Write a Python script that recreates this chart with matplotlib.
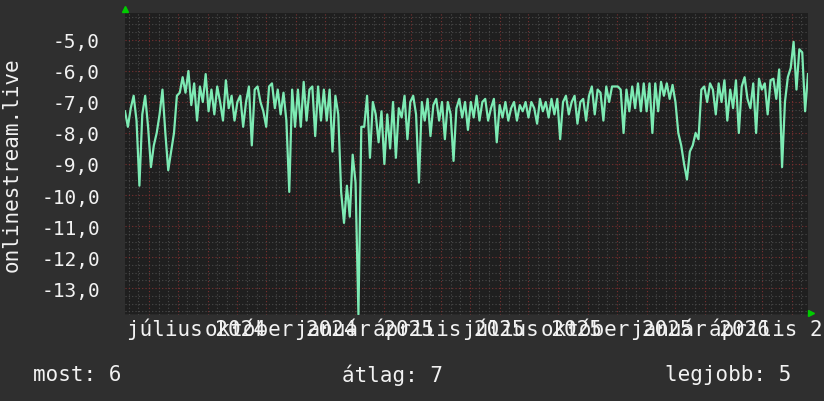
import matplotlib
matplotlib.use("Agg")
import matplotlib.pyplot as plt
import numpy as np

# one value every 3 days, starting 2024-05-07
start_day = np.datetime64("2024-05-07")
step_days = 3
end_day = 711
values = [
    -7.3, -7.8, -7.2, -6.8, -7.6, -9.7, -7.4, -6.8, -7.8, -9.1,
    -8.4, -8.0, -7.4, -6.6, -8.0, -9.2, -8.6, -8.0, -6.8, -6.7,
    -6.2, -6.7, -6.0, -7.1, -6.4, -7.6, -6.5, -7.0, -6.1, -7.3,
    -6.6, -7.4, -6.5, -7.0, -7.6, -6.3, -7.2, -6.8, -7.6, -7.0,
    -6.8, -7.8, -7.0, -6.5, -8.4, -6.6, -6.5, -7.0, -7.3, -7.8,
    -6.5, -6.4, -7.2, -6.6, -7.4, -6.7, -7.6, -9.9, -6.6, -7.8,
    -6.6, -7.8, -6.35, -7.6, -6.6, -6.5, -8.1, -6.5, -7.6, -6.6,
    -7.6, -6.6, -8.6, -6.8, -7.4, -9.9, -10.9, -9.7, -10.7, -8.7,
    -9.6, -13.85, -7.8, -7.8, -6.8, -8.8, -7.0, -7.4, -8.3, -7.3,
    -9.0, -7.4, -8.5, -7.0, -8.8, -7.2, -7.5, -6.8, -8.2, -7.0,
    -6.8, -7.4, -9.6, -7.0, -7.6, -6.9, -8.1, -7.1, -6.9, -7.6,
    -7.0, -8.2, -7.0, -7.4, -8.9, -7.2, -6.9, -7.5, -7.0, -7.9,
    -7.0, -7.5, -6.8, -7.6, -7.0, -6.9, -7.6, -7.2, -6.9, -8.3,
    -7.1, -7.5, -7.0, -7.6, -7.2, -7.0, -7.6, -7.1, -7.3, -7.0,
    -7.5, -7.0, -7.2, -7.7, -6.9, -7.3, -7.0, -7.5, -6.9, -7.4,
    -6.9, -8.2, -7.0, -6.8, -7.4, -7.0, -6.8, -7.7, -7.0, -6.9,
    -7.6, -6.8, -6.5, -7.4, -6.6, -6.7, -7.6, -6.5, -7.0, -6.5,
    -6.5, -6.5, -6.6, -8.0, -6.6, -7.3, -6.5, -7.2, -6.4, -7.3,
    -6.4, -7.3, -6.4, -8.0, -6.4, -7.3, -6.35, -6.8, -6.4, -6.9,
    -6.45, -7.0, -8.0, -8.4, -9.0, -9.5, -8.6, -8.4, -8.0, -8.2,
    -6.6, -6.5, -7.0, -6.4, -6.6, -7.4, -6.4, -7.0, -6.3, -7.6,
    -6.6, -7.2, -6.3, -8.0, -6.5, -6.2, -6.9, -7.2, -6.4, -8.0,
    -6.25, -6.6, -6.4, -7.4, -6.3, -6.25, -6.9, -5.95, -9.1, -7.0,
    -6.2, -5.9, -5.06, -6.6, -5.3, -5.4, -7.3, -6.1,
]
# x label positions in days from start_day (labels overlap, as in the original)
label_days = [74, 162, 249, 337, 424, 512, 599, 687]
tick_labels = ["július 2024", "október 2024", "január 2025", "április 2025",
               "július 2025", "október 2025", "január 2026", "április 2026"]
y_ticks = [-5, -6, -7, -8, -9, -10, -11, -12, -13]
y_title = "onlinestream.live"
summary = ["most: 6", "átlag: 7", "legjobb: 5"]

days = np.arange(len(values)) * step_days

# month starts for red grid, 11th/21st for grey grid
months = np.arange(np.datetime64("2024-05"), np.datetime64("2026-06"))
month_days = [(m.astype("datetime64[D]") - start_day).astype(int) for m in months]
minor_days = []
for md in month_days:
    minor_days += [md + 10, md + 20]

mono = "DejaVu Sans Mono"
fig = plt.figure(figsize=(8.24, 4.02), dpi=100, facecolor="#2f2f2f")
ax = fig.add_axes([125 / 824, 86 / 402, 683 / 824, 302 / 402])
ax.set_facecolor("#1f1f1f")

ax.set_xlim(0, end_day)
ax.set_ylim(-13.87, -4.13)

# grid
for d in minor_days:
    ax.axvline(d, color="#4a4a4a", lw=0.8, ls=(0, (1, 2)), zorder=1)
for d in month_days:
    ax.axvline(d, color="#7a3030", lw=0.8, ls=(0, (1, 2)), zorder=1)
for v in np.arange(-13.75, -4.1, 0.25):
    if abs(v - round(v)) > 0.01:
        ax.axhline(v, color="#4a4a4a", lw=0.8, ls=(0, (1, 2)), zorder=1)
for v in y_ticks:
    ax.axhline(v, color="#7a3030", lw=0.8, ls=(0, (1, 2)), zorder=1)

ax.plot(days, values, color="#7debb4", lw=1.6, zorder=3)

ax.set_yticks(y_ticks)
ax.set_yticklabels([f"{v},0" for v in y_ticks], family=mono, fontsize=14, color="#f2f2f2")
ax.tick_params(axis="y", length=0, pad=18)
ax.set_xticks([])
for d, lab in zip(label_days, tick_labels):
    ax.text(d, -0.066, lab, transform=ax.get_xaxis_transform(), family=mono,
            fontsize=15, color="#f2f2f2", ha="center", va="baseline", clip_on=False)
for s in ax.spines.values():
    s.set_visible(False)
ax.axhline(-13.87, color="#555555", lw=1, zorder=2)

ax.set_ylabel(y_title, family=mono, fontsize=15, color="#f2f2f2", labelpad=14)

# green arrows
ax.plot([0], [1.0 + 4 / 302], marker="^", ms=5, color="#00cc00",
        transform=ax.transAxes, clip_on=False)
ax.plot([1.0 + 3 / 683], [0.008], marker=">", ms=5, color="#00cc00",
        transform=ax.transAxes, clip_on=False)

fig.text(33 / 824, 1 - 375 / 402, summary[0], family=mono, fontsize=15,
         color="#f2f2f2", va="center", ha="left")
fig.text(392 / 824, 1 - 375 / 402, summary[1], family=mono, fontsize=15,
         color="#f2f2f2", va="center", ha="center")
fig.text(791 / 824, 1 - 375 / 402, summary[2], family=mono, fontsize=15,
         color="#f2f2f2", va="center", ha="right")

fig.savefig("out.png", dpi=100, facecolor=fig.get_facecolor())
